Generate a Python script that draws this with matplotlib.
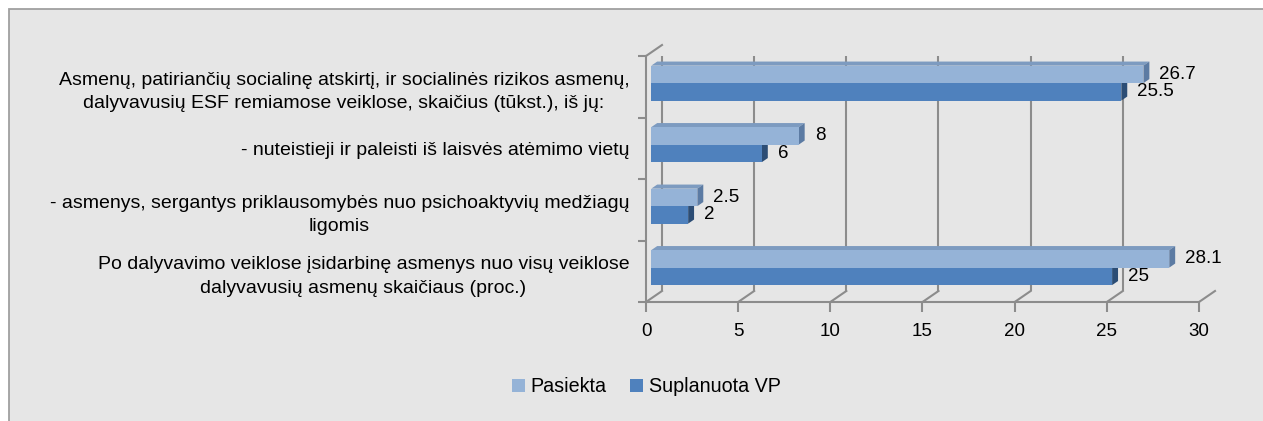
import matplotlib.pyplot as plt
import numpy as np
from matplotlib.patches import Polygon, Rectangle
from matplotlib.transforms import offset_copy, IdentityTransform

plt.rcParams['font.family'] = ['Liberation Sans', 'DejaVu Sans']

categories = [
    "Asmenų, patiriančių socialinę atskirtį, ir socialinės rizikos asmenų,\n"
    "dalyvavusių ESF remiamose veiklose, skaičius (tūkst.), iš jų:",
    "- nuteistieji ir paleisti iš laisvės atėmimo vietų",
    "- asmenys, sergantys priklausomybės nuo psichoaktyvių medžiagų\nligomis",
    "Po dalyvavimo veiklose įsidarbinę asmenys nuo visų veiklose\n"
    "dalyvavusių asmenų skaičiaus (proc.)",
]
pasiekta = [26.7, 8, 2.5, 28.1]
suplanuota = [25.5, 6, 2, 25]
series_names = ["Pasiekta", "Suplanuota VP"]
xticks = [0, 5, 10, 15, 20, 25, 30]

W, H = 1263, 421
fig = plt.figure(figsize=(W / 100, H / 100), dpi=100)
fig.patch.set_facecolor("white")
# chart area box (cut by the image edges on the right and bottom)
fig.patches.append(Rectangle((9 / W, -0.1), 1.2, 1.1 - 9 / H, transform=fig.transFigure,
                             facecolor="#e6e6e6", edgecolor="#a0a0a0", lw=1.3, zorder=-5))

ax = fig.add_axes([646 / W, (H - 302) / H, (1199 - 646) / W, (302 - 56) / H])
ax.set_xlim(0, 30)
ax.set_ylim(3.5, -0.5)
ax.patch.set_alpha(0)

grid_col = "#8c8c8c"
DX, DY = 16, 11          # full depth of the 3d box in pixels
d_front, d_back = 0.33, 0.70   # depth of the bars' front and back faces


def at_depth(d):
    return offset_copy(ax.transData, fig, x=d * DX, y=d * DY, units="dots")


def proj(x, y, d):
    px, py = ax.transData.transform((x, y))
    return (px + d * DX, py + d * DY)


# back wall gridlines and floor lines
ax.vlines(xticks, -0.5, 3.5, transform=at_depth(1), colors=grid_col, lw=1.5, zorder=1)
for xt in xticks:
    p0, p1 = proj(xt, 3.5, 0), proj(xt, 3.5, 1)
    ax.plot([p0[0], p1[0]], [p0[1], p1[1]], transform=IdentityTransform(),
            color=grid_col, lw=1.5, clip_on=False, zorder=1)
p0, p1 = proj(0, -0.5, 0), proj(0, -0.5, 1)
ax.plot([p0[0], p1[0]], [p0[1], p1[1]], transform=IdentityTransform(),
        color=grid_col, lw=1.5, clip_on=False, zorder=1)

h = 17.5 / 61.5
y = np.arange(len(categories))
bar_tr = at_depth(d_front)


def face(pts, col):
    ax.add_patch(Polygon(pts, closed=True, transform=IdentityTransform(),
                         facecolor=col, edgecolor="none", clip_on=False, zorder=3))


series = [
    (suplanuota, y + h / 2, "#4f81bd", "#4a76ab", "#2c4d75", series_names[1]),
    (pasiekta, y - h / 2, "#95b3d7", "#7d9bc0", "#5c7ba3", series_names[0]),
]
handles = {}
for vals, yc, front, top, side, name in series:
    for v, c in zip(vals, yc):
        yt, yb = c - h / 2, c + h / 2
        face([proj(0, yt, d_front), proj(v, yt, d_front), proj(v, yt, d_back), proj(0, yt, d_back)], top)
        face([proj(v, yt, d_front), proj(v, yb, d_front), proj(v, yb, d_back), proj(v, yt, d_back)], side)
    bars = ax.barh(yc, vals, height=h, color=front, transform=bar_tr, zorder=4,
                   clip_on=False, label=name)
    handles[name] = bars
    for v, c in zip(vals, yc):
        ax.annotate(f"{v:g}", xy=(v, c), xycoords=bar_tr, xytext=(16, 0),
                    textcoords="offset pixels", va="center", ha="left",
                    fontsize=13.5, color="black", zorder=6, annotation_clip=False)

for s in ["top", "right"]:
    ax.spines[s].set_visible(False)
for s in ["left", "bottom"]:
    ax.spines[s].set_color(grid_col)
    ax.spines[s].set_linewidth(1.5)

ax.set_xticks(xticks)
ax.tick_params(axis="x", direction="out", length=7, width=1.5, color=grid_col,
               pad=8, labelsize=13.5)
ax.set_yticks(y)
ax.set_yticklabels(categories, fontsize=14, multialignment="center", linespacing=1.5)
ax.set_yticks(np.arange(-0.5, 4, 1), minor=True)
ax.tick_params(axis="y", which="major", length=0, pad=12)
ax.tick_params(axis="y", which="minor", direction="out", length=6, width=1.5, color=grid_col)

fig.legend([handles[n] for n in series_names], series_names, loc="center",
           bbox_to_anchor=(646.5 / W, 1 - 387 / H), ncol=2, frameon=False,
           fontsize=14.2, handlelength=0.66, handleheight=0.66, handletextpad=0.3,
           columnspacing=1.2)

fig.savefig("out.png", dpi=100)
